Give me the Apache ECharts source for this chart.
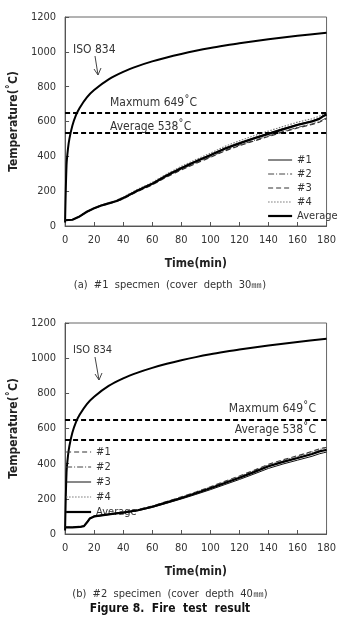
<!DOCTYPE html>
<html><head><meta charset="utf-8">
<script src="https://cdn.jsdelivr.net/npm/echarts@6/dist/echarts.min.js"></script>
<style>html,body{margin:0;padding:0;background:#fff}#c{width:339px;height:633px}</style>
</head><body><div id="c"></div>
<script>
// ---------- data ----------
var xTicks = [0, 20, 40, 60, 80, 100, 120, 140, 160, 180];
var yTicks = [0, 200, 400, 600, 800, 1000, 1200];
var isoTime = [0, 1, 2, 3, 5, 7.5, 10, 15, 20, 30, 40, 50, 60, 70, 80, 90, 100, 110, 120, 140, 160, 180];
var isoTemp = [20, 349, 444, 502, 576, 636, 678, 739, 781, 842, 885, 918, 945, 968, 988, 1006, 1022, 1036, 1049, 1072, 1092, 1110];
var maxTemp = 649;
var avgTemp = 538;
var seriesNames = ['#1', '#2', '#3', '#4', 'Average'];

// (a) specimen 1, cover depth 30mm
var timeA = [0, 5, 10, 15, 20, 25, 30, 35, 40, 50, 60, 70, 80, 90, 100, 110, 120, 130, 140, 150, 160, 170, 175, 178, 180];
var a1 = [33, 36, 56, 83, 103, 120, 132, 144, 163, 207, 246, 294, 336, 374, 410, 448, 479, 507, 533, 559, 584, 604, 618, 636, 644];
var a2 = [33, 36, 54, 81, 101, 117, 129, 141, 158, 200, 238, 284, 325, 362, 397, 434, 464, 491, 517, 542, 566, 586, 600, 612, 622];
var a3 = [33, 35, 54, 80, 100, 116, 128, 140, 156, 198, 236, 282, 322, 359, 394, 431, 461, 488, 514, 539, 563, 583, 596, 608, 618];
var a4 = [33, 36, 57, 84, 104, 121, 133, 146, 166, 211, 250, 299, 342, 381, 418, 457, 489, 518, 545, 571, 596, 616, 630, 642, 650];
var aAvg = [33, 36, 55, 82, 102, 118, 130, 142, 160, 204, 242, 290, 332, 370, 406, 444, 474, 502, 529, 555, 580, 600, 615, 632, 640];

// (b) specimen 2, cover depth 40mm
var timeB = [0, 5, 10, 13, 15, 17, 20, 25, 30, 35, 40, 50, 60, 70, 80, 90, 100, 110, 120, 130, 140, 150, 160, 170, 175, 178, 180];
var b1 = [38, 38, 40, 46, 67, 90, 102, 108, 114, 119, 125, 138, 159, 185, 211, 239, 268, 299, 330, 362, 396, 422, 445, 469, 484, 490, 492];
var b2 = [38, 38, 40, 45, 65, 88, 100, 106, 112, 117, 122, 135, 155, 180, 205, 232, 260, 290, 320, 352, 384, 409, 431, 454, 468, 474, 477];
var b3 = [37, 37, 39, 44, 63, 86, 98, 104, 110, 115, 120, 132, 151, 175, 199, 225, 252, 281, 310, 341, 373, 398, 420, 442, 456, 462, 466];
var b4 = [38, 38, 40, 46, 66, 89, 101, 107, 113, 118, 124, 137, 158, 183, 209, 237, 266, 296, 327, 359, 392, 418, 441, 465, 480, 486, 488];
var bAvg = [38, 38, 40, 45, 65, 88, 100, 106, 112, 117, 122, 135, 155, 180, 205, 232, 260, 290, 320, 352, 385, 410, 432, 455, 470, 475, 478];

// ---------- build ----------
function zip(xs, ys) { return xs.map(function (x, i) { return [x, ys[i]]; }); }
var FONT = "'DejaVu Sans Condensed','Liberation Sans Narrow','Roboto Condensed','Liberation Sans',Arial,sans-serif";
var axisCol = '#555';

function xAx(gi) {
  return {
    type: 'value', gridIndex: gi, min: 0, max: 180, interval: 20,
    axisLine: { show: true, lineStyle: { color: axisCol, width: 1 } },
    axisTick: { show: true, inside: true, length: 4, lineStyle: { color: axisCol } },
    splitLine: { show: false },
    axisLabel: { margin: 9, fontSize: 11, color: '#333', fontFamily: FONT,
      formatter: function (v) { return xTicks.indexOf(v) >= 0 ? String(v) : ''; } },
    name: 'Time(min)', nameLocation: 'middle', nameGap: 32,
    nameTextStyle: { fontSize: 12, fontWeight: 'bold', color: '#222', fontFamily: FONT }
  };
}
function yAx(gi) {
  return {
    type: 'value', gridIndex: gi, min: 0, max: 1200, interval: 200,
    axisLine: { show: true, lineStyle: { color: axisCol, width: 1 } },
    axisTick: { show: true, inside: true, length: 4, lineStyle: { color: axisCol } },
    splitLine: { show: false },
    axisLabel: { margin: 9, fontSize: 11, color: '#333', fontFamily: FONT,
      formatter: function (v) { return yTicks.indexOf(v) >= 0 ? String(v) : ''; } },
    name: 'Temperature(˚C)', nameLocation: 'middle', nameGap: 33,
    nameTextStyle: { fontSize: 12, fontWeight: 'bold', color: '#222', fontFamily: FONT }
  };
}

var styleA = [
  { color: '#111', width: 1, type: 'solid' },
  { color: '#444', width: 1, type: [6, 2, 1, 2] },
  { color: '#333', width: 1.2, type: [5, 3] },
  { color: '#777', width: 1.2, type: [1.5, 1.5] },
  { color: '#000', width: 2.2, type: 'solid' }
];
var styleB = [
  { color: '#333', width: 1.2, type: [5, 3] },
  { color: '#444', width: 1, type: [6, 2, 1, 2] },
  { color: '#111', width: 1, type: 'solid' },
  { color: '#777', width: 1.2, type: [1.5, 1.5] },
  { color: '#000', width: 2.2, type: 'solid' }
];

var series = [];
function refLines(gi) {
  return {
    type: 'line', xAxisIndex: gi, yAxisIndex: gi, data: [], silent: true,
    markLine: {
      silent: true, symbol: ['none', 'none'], label: { show: false },
      lineStyle: { color: '#000', width: 2, type: [5, 3] },
      data: [{ yAxis: maxTemp }, { yAxis: avgTemp }]
    }
  };
}
function iso(gi) {
  return { type: 'line', name: 'ISO 834', xAxisIndex: gi, yAxisIndex: gi, data: zip(isoTime, isoTemp),
    showSymbol: false, smooth: 0.3, lineStyle: { color: '#000', width: 2 }, silent: true };
}
series.push(refLines(0), iso(0), refLines(1), iso(1));
var dataA = [a1, a2, a3, a4, aAvg], dataB = [b1, b2, b3, b4, bAvg];
seriesNames.forEach(function (n, i) {
  series.push({ type: 'line', name: n, xAxisIndex: 0, yAxisIndex: 0, data: zip(timeA, dataA[i]),
    showSymbol: false, symbol: 'none', lineStyle: styleA[i], itemStyle: { color: styleA[i].color }, z: i === 4 ? 4 : 3 });
});
seriesNames.forEach(function (n, i) {
  series.push({ type: 'line', name: 'b' + n, xAxisIndex: 1, yAxisIndex: 1, data: zip(timeB, dataB[i]),
    showSymbol: false, symbol: 'none', lineStyle: styleB[i], itemStyle: { color: styleB[i].color }, z: i === 4 ? 4 : 3 });
});

var legTxt = { fontSize: 11, color: '#333', fontFamily: FONT, lineHeight: 12 };
function legData(prefix, styles) {
  return seriesNames.map(function (n, i) {
    return { name: prefix + n, lineStyle: { width: styles[i].width, type: styles[i].type, color: styles[i].color } };
  });
}

function txt(x, y, s, opt) {
  return { type: 'text', x: x, y: y, style: Object.assign({ text: s, fill: '#333', font: '12px ' + FONT, textVerticalAlign: 'middle' }, opt || {}) };
}
function arrow(x1, y1, x2, y2) {
  return [
    { type: 'line', shape: { x1: x1, y1: y1, x2: x2, y2: y2 }, style: { stroke: '#444', lineWidth: 1 } },
    { type: 'polyline', shape: { points: [[x2 - 4, y2 - 6], [x2, y2], [x2 + 3, y2 - 7]] }, style: { stroke: '#444', lineWidth: 1, fill: null } }
  ];
}

var option = {
  backgroundColor: '#fff',
  animation: false,
  grid: [
    { left: 47, top: 17, width: 283, height: 209, show: true, borderColor: '#666', borderWidth: 1, containLabel: false },
    { left: 48, top: 323, width: 283, height: 211, show: true, borderColor: '#666', borderWidth: 1, containLabel: false }
  ],
  xAxis: [xAx(0), xAx(1)],
  yAxis: [yAx(0), yAx(1)],
  legend: [
    { data: legData('', styleA), orient: 'vertical', left: 262, top: 149, itemWidth: 24, itemHeight: 12, itemGap: 2,
      textStyle: legTxt, selectedMode: false, itemStyle: { opacity: 0, borderWidth: 0 } },
    { data: legData('b', styleB), orient: 'vertical', left: 60, top: 441,
      itemWidth: 25, itemHeight: 12, itemGap: 3, textStyle: legTxt, selectedMode: false, itemStyle: { opacity: 0, borderWidth: 0 },
      formatter: function (n) { return n.slice(1); } }
  ],
  series: series,
  graphic: [
    txt(73, 50, 'ISO 834', { font: '12px ' + FONT }),
    txt(110, 103, 'Maxmum 649˚C'),
    txt(110, 127, 'Average 538˚C'),
    txt(73, 350, 'ISO 834', { font: '11px ' + FONT }),
    txt(316, 409, 'Maxmum 649˚C', { textAlign: 'right' }),
    txt(316, 430, 'Average 538˚C', { textAlign: 'right' }),
    txt(170, 285, '(a)  #1  specmen  (cover  depth  30㎜)', { textAlign: 'center', font: '11px ' + FONT, fill: '#333' }),
    txt(170, 594, '(b)  #2  specimen  (cover  depth  40㎜)', { textAlign: 'center', font: '11px ' + FONT, fill: '#333' }),
    txt(170, 609, 'Figure 8.  Fire  test  result', { textAlign: 'center', font: 'bold 12px ' + FONT, fill: '#111' })
  ].concat(arrow(95, 56, 98, 75)).concat(arrow(95, 357, 99, 380))
};
var chart = echarts.init(document.getElementById('c'), null, { renderer: 'canvas' });
chart.setOption(option);
</script></body></html>
